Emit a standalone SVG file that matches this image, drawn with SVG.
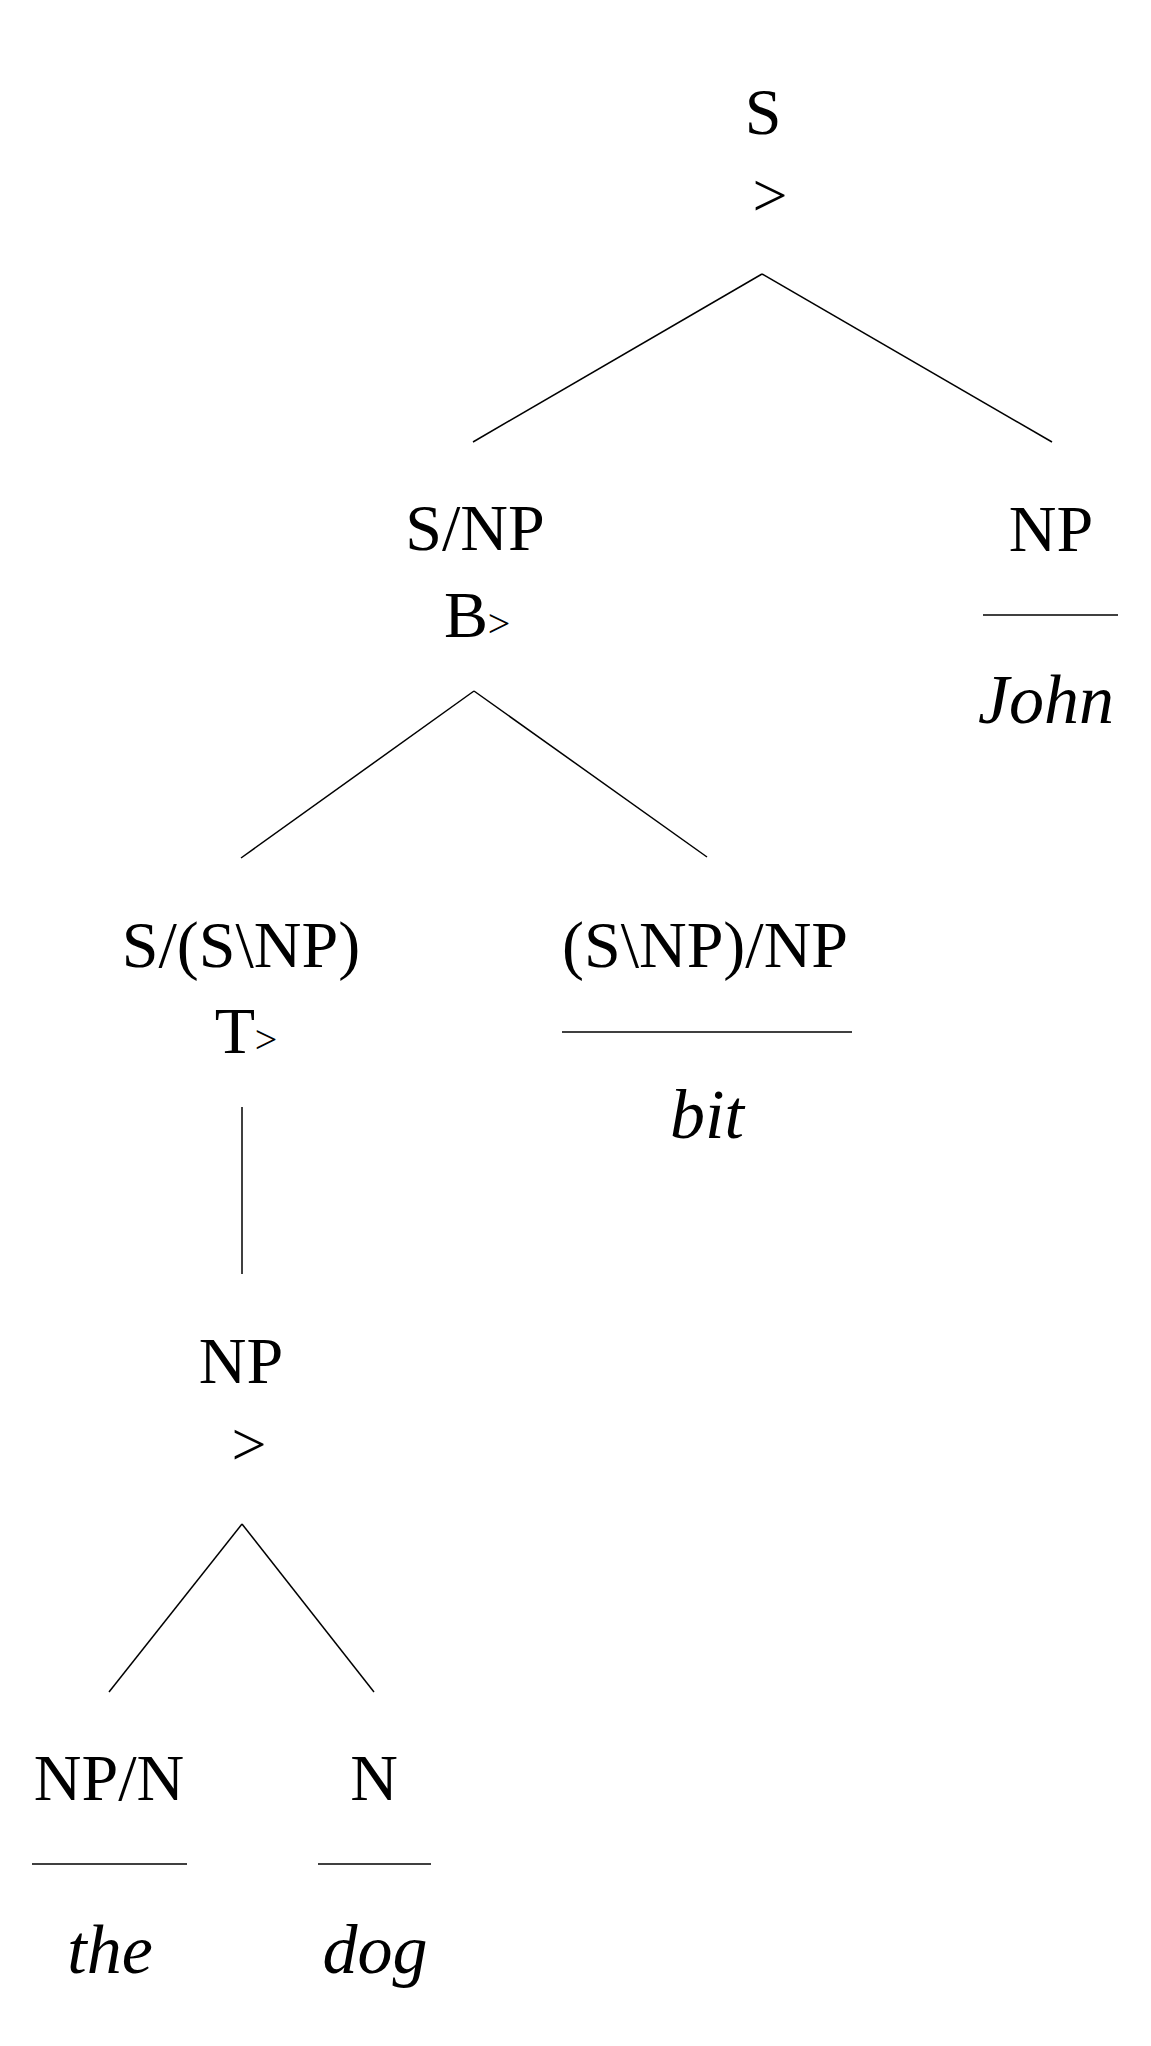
<svg xmlns="http://www.w3.org/2000/svg" width="1151" height="2046" viewBox="0 0 1151 2046">
<style>
text{font-family:"Liberation Serif","DejaVu Serif",serif;fill:#000;text-anchor:middle}
.c{font-size:66px}
.w{font-size:70px;font-style:italic}
.op{font-size:62px}
.sub{font-size:40px}
line{stroke:#000;stroke-width:1.5;fill:none}
</style>
<rect width="1151" height="2046" fill="#fff"/>
<g id="connectors">
<line x1="762" y1="274" x2="473" y2="442"/>
<line x1="762" y1="274" x2="1052" y2="442"/>
<line x1="474" y1="691" x2="241" y2="858"/>
<line x1="474" y1="691" x2="707" y2="857"/>
<line x1="242" y1="1107" x2="242" y2="1274"/>
<line x1="242" y1="1524" x2="109" y2="1692"/>
<line x1="242" y1="1524" x2="374" y2="1692"/>
</g>
<g id="node-S">
<text class="c" x="763" y="134">S</text>
<text class="op" x="770" y="216">&gt;</text>
</g>
<g id="node-SNP">
<text class="c" x="475" y="550">S/NP</text>
<text class="c" x="466" y="637">B</text>
<text class="sub" x="499" y="637">&gt;</text>
</g>
<g id="node-NP-John">
<text class="c" x="1051" y="551">NP</text>
<line x1="983" y1="615" x2="1118" y2="615"/>
<text class="w" x="1046" y="723">John</text>
</g>
<g id="node-TR">
<text class="c" x="241" y="967">S/(S\NP)</text>
<text class="c" x="235" y="1053">T</text>
<text class="sub" x="266" y="1053">&gt;</text>
</g>
<g id="node-bit">
<text class="c" x="705" y="967">(S\NP)/NP</text>
<line x1="562" y1="1032" x2="852" y2="1032"/>
<text class="w" x="707" y="1138">bit</text>
</g>
<g id="node-NP">
<text class="c" x="241" y="1383">NP</text>
<text class="op" x="249" y="1465">&gt;</text>
</g>
<g id="node-the">
<text class="c" x="109" y="1800">NP/N</text>
<line x1="32" y1="1864" x2="187" y2="1864"/>
<text class="w" x="110" y="1973">the</text>
</g>
<g id="node-dog">
<text class="c" x="374" y="1800">N</text>
<line x1="318" y1="1864" x2="431" y2="1864"/>
<text class="w" x="375" y="1973">dog</text>
</g>
</svg>
